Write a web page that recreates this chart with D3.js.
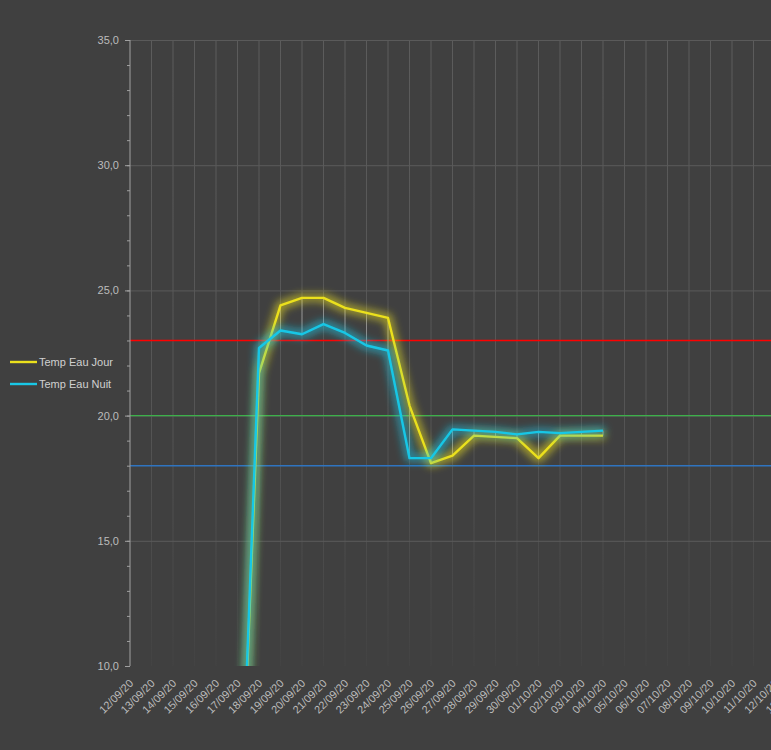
<!DOCTYPE html>
<html>
<head>
<meta charset="utf-8">
<script src="https://cdn.jsdelivr.net/npm/d3@7"></script>
<style>
  html, body { margin: 0; padding: 0; background: #404040; overflow: hidden; }
  svg { display: block; font-family: "Liberation Sans", Arial, sans-serif; }
</style>
</head>
<body>
<svg id="chart"></svg>
<script>
// Data
const dates = ["12/09/20","13/09/20","14/09/20","15/09/20","16/09/20","17/09/20","18/09/20","19/09/20",
  "20/09/20","21/09/20","22/09/20","23/09/20","24/09/20","25/09/20","26/09/20","27/09/20","28/09/20",
  "29/09/20","30/09/20","01/10/20","02/10/20","03/10/20","04/10/20","05/10/20","06/10/20","07/10/20",
  "08/10/20","09/10/20","10/10/20","11/10/20","12/10/20","13/10/20","14/10/20"];
const tempJour = [0, 0, 0, 0, 0, 0, 21.7, 24.4, 24.7, 24.7, 24.3, 24.1, 23.9, 20.4, 18.1, 18.4, 19.2,
  19.15, 19.1, 18.3, 19.2, 19.2, 19.2];
const tempNuit = [0, 0, 0, 0, 0, 0, 22.7, 23.4, 23.25, 23.65, 23.3, 22.8, 22.6, 18.3, 18.3, 19.45, 19.4,
  19.35, 19.25, 19.35, 19.3, 19.35, 19.4];
const seriesNames = ["Temp Eau Jour", "Temp Eau Nuit"];
const seriesColors = ["#ebe01c", "#19c7e6"];
const thresholds = [23, 20, 18];
const thresholdColors = ["#ff0000", "#3cb04a", "#2f74c0"];
const yTicks = [10, 15, 20, 25, 30, 35];

const W = 771, H = 750;
const plot = { left: 130, top: 40, bottom: 666, step: 21.5 };

const svg = d3.select("#chart").attr("width", W).attr("height", H);

const x = d3.scalePoint()
  .domain(dates)
  .range([plot.left, plot.left + plot.step * (dates.length - 1)]);

const y = d3.scaleLinear()
  .domain([10, 35])
  .range([plot.bottom, plot.top]);

const defs = svg.append("defs");

// vertical gridlines fade towards the bottom
const grad = defs.append("linearGradient")
  .attr("id", "vgrid")
  .attr("gradientUnits", "userSpaceOnUse")
  .attr("x1", 0).attr("y1", plot.top).attr("x2", 0).attr("y2", plot.bottom);
grad.append("stop").attr("offset", "0%").attr("stop-color", "#5c5c5c");
grad.append("stop").attr("offset", "60%").attr("stop-color", "#555555");
grad.append("stop").attr("offset", "100%").attr("stop-color", "#434343");

defs.append("clipPath").attr("id", "clip")
  .append("rect")
  .attr("x", plot.left).attr("y", plot.top)
  .attr("width", W).attr("height", plot.bottom - plot.top);

const glow = defs.append("filter").attr("id", "glow")
  .attr("x", "-50%").attr("y", "-50%").attr("width", "200%").attr("height", "200%");
glow.append("feMorphology").attr("in", "SourceGraphic").attr("operator", "dilate").attr("radius", 2).attr("result", "fat");
glow.append("feGaussianBlur").attr("in", "fat").attr("stdDeviation", 4.5).attr("result", "blur");
glow.append("feComponentTransfer").attr("in", "blur").attr("result", "soft")
  .append("feFuncA").attr("type", "linear").attr("slope", 0.7);
const merge = glow.append("feMerge");
merge.append("feMergeNode").attr("in", "soft");
merge.append("feMergeNode").attr("in", "SourceGraphic");

// vertical gridlines
svg.append("g")
  .selectAll("line")
  .data(dates.slice(1))
  .enter()
  .append("line")
  .attr("x1", d => x(d)).attr("x2", d => x(d))
  .attr("y1", plot.top).attr("y2", plot.bottom)
  .attr("stroke", "url(#vgrid)")
  .attr("stroke-width", 1);

// horizontal gridlines
svg.append("g")
  .attr("transform", `translate(${plot.left},0)`)
  .call(d3.axisLeft(y).tickValues(yTicks.slice(1)).tickSize(-W).tickFormat(""))
  .call(g => g.select(".domain").remove())
  .selectAll("line")
  .attr("stroke", "#5a5a5a");

// threshold lines
svg.append("g")
  .selectAll("line")
  .data(thresholds)
  .enter()
  .append("line")
  .attr("x1", plot.left).attr("x2", W)
  .attr("y1", d => y(d)).attr("y2", d => y(d))
  .attr("stroke", (d, i) => thresholdColors[i])
  .attr("stroke-width", (d, i) => i === 0 ? 1.6 : 1.4);

// y axis: minor ticks every 1, major every 5
const yAxis = svg.append("g").attr("transform", `translate(${plot.left},0)`);
yAxis.call(d3.axisLeft(y).tickValues(d3.range(10, 36, 1)).tickSize(3).tickFormat(""))
  .call(g => g.select(".domain").remove())
  .selectAll("line").attr("stroke", "#a0a0a0");
const yMajor = svg.append("g").attr("transform", `translate(${plot.left},0)`)
  .call(d3.axisLeft(y).tickValues(yTicks).tickSize(5).tickPadding(6)
    .tickFormat(d => d3.format(".1f")(d).replace(".", ",")));
yMajor.select(".domain").attr("stroke", "#a0a0a0").attr("d", `M0,${plot.top}V${plot.bottom}`);
yMajor.selectAll("line").attr("stroke", "#a0a0a0");
yMajor.selectAll("text")
  .attr("fill", "#bcbcbc")
  .style("font-size", "11px")
  .style("font-family", "Liberation Sans, Arial, sans-serif");

// x labels
svg.append("g")
  .selectAll("text")
  .data(dates)
  .enter()
  .append("text")
  .attr("transform", d => `translate(${x(d) + 4},${plot.bottom + 18}) rotate(-45)`)
  .attr("text-anchor", "end")
  .attr("fill", "#bcbcbc")
  .style("font-size", "11px")
  .text(d => d);

const series = [tempJour, tempNuit];
const plotArea = svg.append("g").attr("clip-path", "url(#clip)");

// high-low lines between the two series
plotArea.append("g")
  .selectAll("line")
  .data(tempJour.map((v, i) => [dates[i], v, tempNuit[i]]))
  .enter()
  .append("line")
  .attr("x1", d => x(d[0])).attr("x2", d => x(d[0]))
  .attr("y1", d => y(d[1])).attr("y2", d => y(d[2]))
  .attr("stroke", "#8c8c8c")
  .attr("stroke-width", 1);

const line = d3.line()
  .x((d, i) => x(dates[i]))
  .y(d => y(d));

series.forEach((vals, k) => {
  plotArea.append("path")
    .datum(vals)
    .attr("d", line)
    .attr("fill", "none")
    .attr("stroke", seriesColors[k])
    .attr("stroke-width", 2.4)
    .attr("stroke-linejoin", "round")
    .attr("filter", "url(#glow)");
});

// legend
const legend = svg.append("g");
seriesNames.forEach((name, k) => {
  const ly = 362 + k * 22;
  legend.append("line")
    .attr("x1", 10).attr("x2", 37)
    .attr("y1", ly).attr("y2", ly)
    .attr("stroke", seriesColors[k])
    .attr("stroke-width", 2.4);
  legend.append("text")
    .attr("x", 39).attr("y", ly + 4)
    .attr("fill", "#d0d0d0")
    .style("font-size", "11px")
    .text(name);
});
</script>
</body>
</html>
